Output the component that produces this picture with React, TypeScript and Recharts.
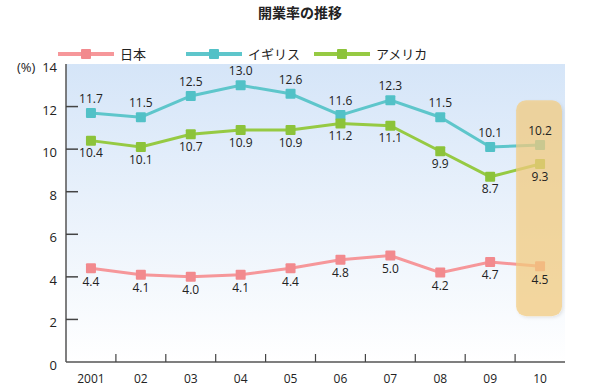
import React from 'react';
import { LineChart, Line, XAxis, YAxis, CartesianGrid, ReferenceArea, LabelList } from 'recharts';

const years = ['2001', '02', '03', '04', '05', '06', '07', '08', '09', '10'];
const japan = [4.4, 4.1, 4.0, 4.1, 4.4, 4.8, 5.0, 4.2, 4.7, 4.5];
const uk = [11.7, 11.5, 12.5, 13.0, 12.6, 11.6, 12.3, 11.5, 10.1, 10.2];
const usa = [10.4, 10.1, 10.7, 10.9, 10.9, 11.2, 11.1, 9.9, 8.7, 9.3];
const yTicks = [0, 2, 4, 6, 8, 10, 12, 14];

const series = [
  { key: 'japan', name: '日本', color: '#f6979a', dot: '#f28a8e', labelPos: 'bottom', offset: 9 },
  { key: 'uk', name: 'イギリス', color: '#5ec6cb', dot: '#52c1c7', labelPos: 'top', offset: 10 },
  { key: 'usa', name: 'アメリカ', color: '#96ca43', dot: '#8cc33a', labelPos: 'bottom', offset: 8 },
];

const data = years.map((year, i) => ({ year, japan: japan[i], uk: uk[i], usa: usa[i] }));

const numFont = '"Open Sans", "Noto Sans", sans-serif';
const jpFont = '"Noto Sans CJK JP", sans-serif';

const SquareDot = (color: string) => (props: any) => {
  const { cx, cy, index } = props;
  if (cx == null || cy == null) return <g key={index} />;
  return <rect key={index} x={cx - 5} y={cy - 5} width={10} height={10} rx={1} fill={color} />;
};

const YTick = (props: any) => {
  const { x, y, payload } = props;
  const v = payload.value;
  return (
    <g>
      {v !== 0 && v !== 14 && (
        <line x1={x + 9} x2={x + 21} y1={y} y2={y} stroke="#444" strokeWidth={1.5} />
      )}
      <text x={x} y={y} dy={8} textAnchor="end" fontSize={13} fill="#222" fontFamily={numFont}>
        {v}
      </text>
    </g>
  );
};

const XTick = (props: any) => {
  const { x, y, payload, index } = props;
  const half = payload.offset || 25;
  return (
    <g>
      {index > 0 && (
        <line x1={x - half} x2={x - half} y1={y - 8} y2={y} stroke="#444" strokeWidth={1.2} />
      )}
      <text x={x} y={y} dy={21} textAnchor="middle" fontSize={12} fill="#222" fontFamily={numFont}>
        {payload.value}
      </text>
    </g>
  );
};

// rounded, semi-transparent box over the 2010 column
const HighlightBox = (p: any) => (
  <rect
    x={p.x + 1}
    y={p.y}
    width={Math.max(p.width - 4, 0)}
    height={p.height}
    rx={10}
    fill="#f5cd80"
    fillOpacity={0.72}
    filter="url(#boxShadow)"
  />
);

export default function App() {
  return (
    <div style={{ position: 'relative', width: 600, height: 389, background: '#fff', fontFamily: numFont }}>
      <style>{'body{margin:0}'}</style>
      <div
        style={{
          position: 'absolute',
          top: 2,
          width: 600,
          textAlign: 'center',
          fontSize: 14,
          fontWeight: 'bold',
          fontFamily: jpFont,
          color: '#222',
        }}
      >
        開業率の推移
      </div>
      <div style={{ position: 'absolute', top: 44, left: 58, display: 'flex' }}>
        {series.map((s) => (
          <div key={s.key} style={{ width: 128, display: 'flex', alignItems: 'center' }}>
            <svg width={56} height={14}>
              <line x1={0} x2={56} y1={7} y2={7} stroke={s.color} strokeWidth={4} />
              <rect x={23} y={2} width={10} height={10} rx={1} fill={s.dot} />
            </svg>
            <span style={{ marginLeft: 6, fontSize: 13, fontFamily: jpFont, color: '#222' }}>{s.name}</span>
          </div>
        ))}
      </div>
      <div style={{ position: 'absolute', left: 17, top: 58, fontSize: 13, color: '#222' }}>(%)</div>
      <LineChart width={600} height={389} data={data} margin={{ top: 64, right: 35, left: 0, bottom: 0 }}>
        <defs>
          <linearGradient id="plotBg" x1="0" y1="0" x2="0" y2="1">
            <stop offset="0%" stopColor="#d5e5f8" />
            <stop offset="100%" stopColor="#ffffff" />
          </linearGradient>
          <filter id="boxShadow" x="-20%" y="-10%" width="140%" height="120%">
            <feDropShadow dx={1.5} dy={1.5} stdDeviation={1.5} floodColor="#000" floodOpacity={0.12} />
          </filter>
        </defs>
        <CartesianGrid horizontal={false} vertical={false} fill="url(#plotBg)" />
        <XAxis
          dataKey="year"
          scale="band"
          height={27}
          tickSize={0}
          tickMargin={0}
          tick={<XTick />}
          axisLine={{ stroke: '#555', strokeWidth: 1.5 }}
          interval={0}
        />
        <XAxis
          xAxisId="top"
          dataKey="year"
          scale="band"
          orientation="top"
          height={0}
          tick={false}
          tickLine={false}
          axisLine={{ stroke: '#555', strokeWidth: 1.5 }}
        />
        <YAxis
          width={66}
          domain={[0, 14]}
          ticks={yTicks}
          tickSize={0}
          tickMargin={9}
          tick={<YTick />}
          axisLine={{ stroke: '#555', strokeWidth: 1.5 }}
          interval={0}
        />
        <YAxis
          yAxisId="right"
          orientation="right"
          width={0}
          domain={[0, 14]}
          tick={false}
          tickLine={false}
          axisLine={{ stroke: '#555', strokeWidth: 1.5 }}
        />
        {series.map((s) => (
          <Line
            key={s.key}
            dataKey={s.key}
            name={s.name}
            type="linear"
            stroke={s.color}
            strokeWidth={3}
            dot={SquareDot(s.dot)}
            activeDot={false}
            isAnimationActive={false}
          >
            <LabelList
              dataKey={s.key}
              position={s.labelPos as any}
              offset={s.offset}
              fontSize={12}
              fill="#222"
              fontFamily={numFont}
              formatter={(v: any) => Number(v).toFixed(1)}
            />
          </Line>
        ))}
        <ReferenceArea
          x1="10"
          x2="10"
          y1={2.15}
          y2={12.3}
          shape={HighlightBox}
          ifOverflow="visible"
          {...({ zIndex: 1500 } as any)}
        />
      </LineChart>
    </div>
  );
}
